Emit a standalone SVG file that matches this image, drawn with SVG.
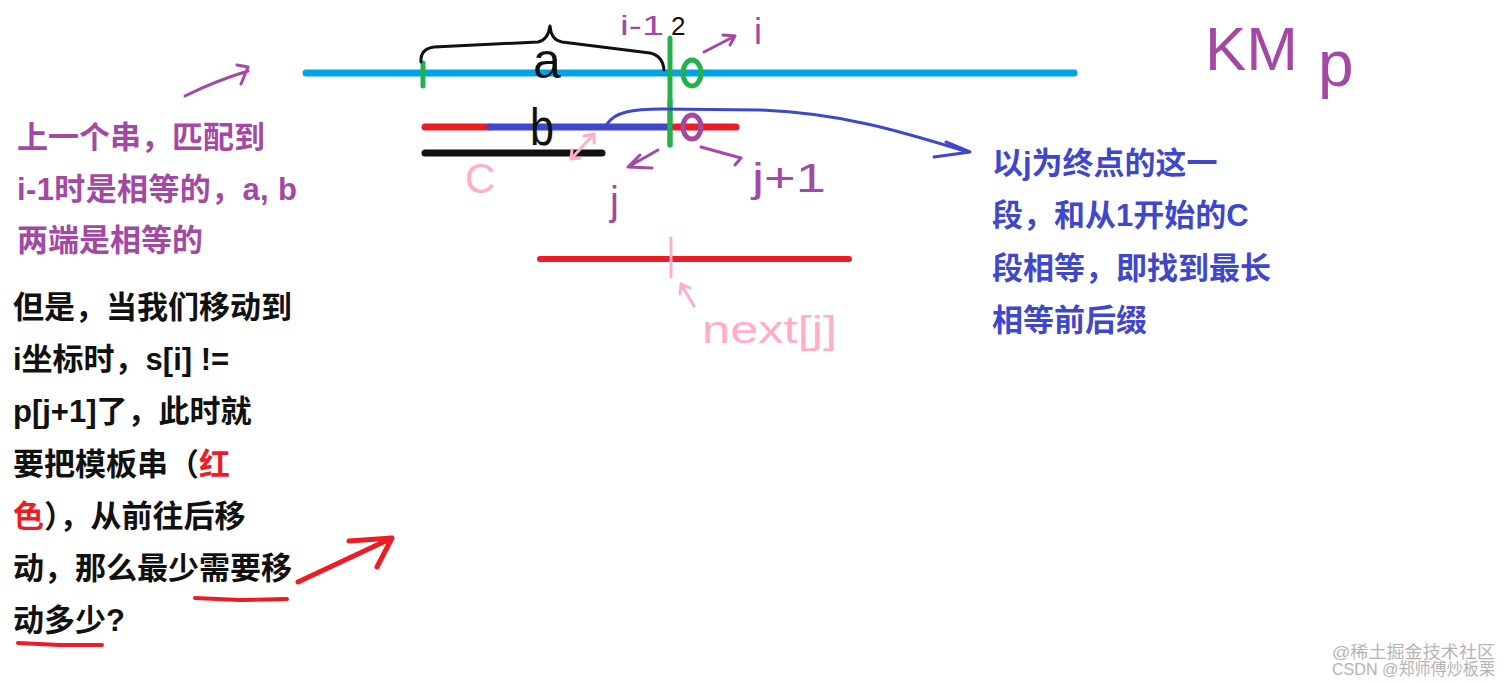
<svg xmlns="http://www.w3.org/2000/svg" width="1512" height="683" viewBox="0 0 1512 683">
<style>
.s{fill:none;stroke-linecap:round;stroke-linejoin:round}
.hw{font-family:"Liberation Sans","DejaVu Sans",sans-serif;font-weight:normal}
.cn{font-family:"Liberation Sans","Noto Sans CJK SC",sans-serif;font-weight:bold;font-size:31px}
.pu{fill:#a349a4}
.bk{fill:#111}
.bl{fill:#3f48cc}
.rd{fill:#ed1c24}
.wm{font-family:"Liberation Sans","Noto Sans CJK SC",sans-serif;font-size:17px;fill:#b4b4b4}
</style>
<rect width="1512" height="683" fill="#fff"/>

<g id="sketch">
  <line class="s" x1="306" y1="73" x2="1074" y2="73" stroke="#00a2e8" stroke-width="7"/>
  <line class="s" x1="423" y1="63" x2="423" y2="86" stroke="#22b14c" stroke-width="5"/>
  <line class="s" x1="670" y1="38" x2="670" y2="145" stroke="#22b14c" stroke-width="5"/>
  <ellipse cx="692" cy="73" rx="9" ry="13" fill="none" stroke="#22b14c" stroke-width="5"/>
  <path class="s" d="M421,62 Q420,49 434,47 L538,42 Q548,40 550,26 Q551,40 562,42 L650,53 Q663,56 664,70" stroke="#111" stroke-width="3"/>
  <line class="s" x1="425" y1="127" x2="490" y2="127" stroke="#ed1c24" stroke-width="7"/>
  <line class="s" x1="490" y1="127" x2="668" y2="127" stroke="#3f48cc" stroke-width="7"/>
  <line class="s" x1="674" y1="127" x2="736" y2="127" stroke="#ed1c24" stroke-width="7"/>
  <line class="s" x1="670" y1="100" x2="670" y2="145" stroke="#22b14c" stroke-width="5"/>
  <ellipse cx="692" cy="127" rx="9" ry="12" fill="none" stroke="#a349a4" stroke-width="5"/>
  <line class="s" x1="425" y1="153" x2="602" y2="153" stroke="#111" stroke-width="7"/>
  <path class="s" d="M571,159 L594,134 M571,159 L572,150 M571,159 L580,158 M594,134 L584,136 M594,134 L594,143" stroke="#ffaec9" stroke-width="3"/>
  <line class="s" x1="540" y1="259" x2="849" y2="259" stroke="#ed1c24" stroke-width="6"/>
  <line class="s" x1="671" y1="238" x2="671" y2="277" stroke="#ffaec9" stroke-width="3"/>
</g>

<g id="connectors">
  <path class="s" d="M607,124 C615,112 632,109 662,109 L760,110 C840,113 900,131 968,152" stroke="#3f48cc" stroke-width="3"/>
  <path class="s" d="M946,142 L970,152 L934,157" stroke="#3f48cc" stroke-width="3"/>
  <path class="s" d="M704,52 L735,36 M723,35 L735,36 L730,45" stroke="#a349a4" stroke-width="3"/>
  <path class="s" d="M658,150 L628,167 M640,155 L628,167 L652,168" stroke="#a349a4" stroke-width="3"/>
  <path class="s" d="M701,147 L741,158 L735,165" stroke="#a349a4" stroke-width="3"/>
  <path class="s" d="M185,96 C205,86 225,78 248,71 M237,65 L248,67 L241,84" stroke="#a349a4" stroke-width="3"/>
  <path class="s" d="M694,306 L681,284 M681,284 L680,294 M681,284 L690,288" stroke="#ffaec9" stroke-width="3"/>
  <path class="s" d="M298,582 L392,538 M349,541 L392,538 L377,567" stroke="#ed1c24" stroke-width="5"/>
  <path class="s" d="M195,598 L240,600 L287,599" stroke="#ed1c24" stroke-width="4"/>
  <path class="s" d="M18,643 L60,645 L102,645" stroke="#ed1c24" stroke-width="4"/>
</g>

<g id="handwritten-labels">
  <text class="hw bk" x="533" y="78" font-size="50">a</text>
  <text class="hw bk" x="530" y="145" font-size="52" textLength="24" lengthAdjust="spacingAndGlyphs">b</text>
  <text class="hw" x="465" y="193" font-size="42" fill="#ffaec9">C</text>
  <text class="hw pu" x="620" y="35" font-size="28" textLength="44" lengthAdjust="spacingAndGlyphs">i-1</text>
  <text class="hw bk" x="671" y="35" font-size="26">2</text>
  <text class="hw pu" x="754" y="44" font-size="36">i</text>
  <text class="hw pu" x="610" y="215" font-size="40">j</text>
  <text class="hw pu" x="752" y="192" font-size="40" textLength="74" lengthAdjust="spacingAndGlyphs">j+1</text>
  <text class="hw" x="702" y="343" font-size="38" fill="#ffaec9" textLength="135" lengthAdjust="spacingAndGlyphs">next[j]</text>
  <text class="hw pu" x="1205" y="70" font-size="62">KM<tspan x="1318" y="86" font-size="64">p</tspan></text>
</g>

<g id="note-purple">
  <text class="cn pu" x="17" y="148">上一个串，匹配到</text>
  <text class="cn pu" x="17" y="200" textLength="280" lengthAdjust="spacing">i-1时是相等的，a, b</text>
  <text class="cn pu" x="17" y="251">两端是相等的</text>
</g>

<g id="note-black">
  <text class="cn bk" x="13" y="318">但是，当我们移动到</text>
  <text class="cn bk" x="13" y="370">i坐标时，s[i] !=</text>
  <text class="cn bk" x="13" y="422">p[j+1]了，此时就</text>
  <text class="cn bk" x="13" y="475">要把模板串（<tspan class="rd">红</tspan></text>
  <text class="cn bk" x="13" y="527"><tspan class="rd">色</tspan>），从前往后移</text>
  <text class="cn bk" x="13" y="579">动，那么最少需要移</text>
  <text class="cn bk" x="13" y="631">动多少?</text>
</g>

<g id="note-blue">
  <text class="cn bl" x="992" y="174">以j为终点的这一</text>
  <text class="cn bl" x="992" y="226">段，和从1开始的C</text>
  <text class="cn bl" x="992" y="279">段相等，即找到最长</text>
  <text class="cn bl" x="992" y="331">相等前后缀</text>
</g>

<g id="watermark">
  <text class="wm" x="1332" y="658" textLength="163" lengthAdjust="spacingAndGlyphs">@稀土掘金技术社区</text>
  <text class="wm" x="1332" y="675" textLength="163" lengthAdjust="spacingAndGlyphs">CSDN @郑师傅炒板栗</text>
</g>
</svg>
